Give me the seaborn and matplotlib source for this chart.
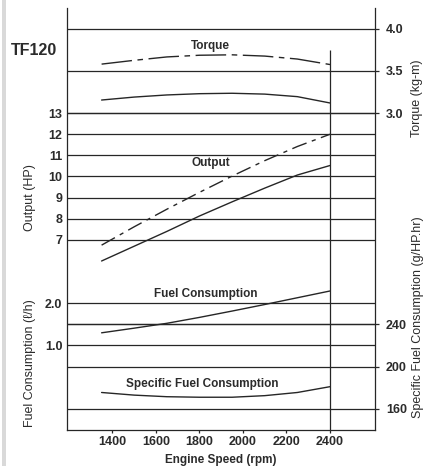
import numpy as np
import pandas as pd
import seaborn as sns
import matplotlib.pyplot as plt

## DATA ##
rpm = [1350, 1500, 1650, 1800, 1950, 2100, 2250, 2400]
torque_max = [3.58, 3.625, 3.665, 3.685, 3.69, 3.675, 3.64, 3.575]      # dash-dot
torque_cont = [3.155, 3.19, 3.215, 3.23, 3.235, 3.225, 3.195, 3.12]     # solid
output_max = [6.75, 7.62, 8.45, 9.25, 10.02, 10.75, 11.42, 12.0]        # dash-dot
output_cont = [6.0, 6.7, 7.4, 8.13, 8.8, 9.45, 10.07, 10.52]            # solid
fuel = [1.30, 1.41, 1.525, 1.665, 1.815, 1.97, 2.13, 2.29]
sfc = [175.5, 173, 171.5, 171, 171, 172.5, 175.5, 181]

x_ticks = [1400, 1600, 1800, 2000, 2200, 2400]
output_ticks = [7, 8, 9, 10, 11, 12, 13]
fuel_ticks = [1.0, 1.5, 2.0]
fuel_labels = ['1.0', '', '2.0']
torque_ticks = [3.0, 3.5, 4.0]
sfc_ticks = [160, 200, 240]

df = pd.DataFrame({'rpm': rpm, 'tq_max': torque_max, 'tq_cont': torque_cont,
                   'hp_max': output_max, 'hp_cont': output_cont,
                   'fuel': fuel, 'sfc': sfc})

## STYLE ##
sns.set_theme(style='white')
plt.rcParams['font.family'] = ['Liberation Sans', 'DejaVu Sans']
ink = '#262626'
txt = '#2b2b2b'
lw = 0.9
dashdot_long = (0, (22, 4, 4, 4))
dashdot_short = (0, (11, 4, 3, 4))

fig = plt.figure(figsize=(4.24, 4.66), dpi=100)
ax = fig.add_axes([0.157, 0.0773, 0.727, 0.9066])
ax.set_ylim(0, 20)
ax.set_yticks([])
ax.spines['top'].set_visible(False)
for s in ['left', 'bottom', 'right']:
    ax.spines[s].set_color(ink)
    ax.spines[s].set_linewidth(lw)


def make_twin(lims, side):
    t = ax.twinx()
    t.set_ylim(lims)
    for s in t.spines.values():
        s.set_visible(False)
    if side == 'left':
        t.yaxis.tick_left()
        t.tick_params(axis='y', length=0, pad=3)
    else:
        t.yaxis.tick_right()
        t.tick_params(axis='y', length=3, width=lw, color=ink, pad=5, direction='out')
    return t


# each scale lines up on the same ruled grid
ax_hp = make_twin((-2, 18), 'left')
ax_fc = make_twin((-1.0, 9.0), 'left')
ax_tq = make_twin((-0.75, 4.25), 'right')
ax_sf = make_twin((140, 540), 'right')

for t, ticks in [(ax_hp, output_ticks), (ax_fc, fuel_ticks),
                 (ax_tq, torque_ticks), (ax_sf, sfc_ticks)]:
    t.set_yticks(ticks)
    for v in ticks:
        t.axhline(v, color=ink, lw=lw, zorder=1)
    for lab in t.get_yticklabels():
        lab.set_fontweight('bold')
        lab.set_fontsize(9)
        lab.set_color(txt)
    t.set_ylabel('')
ax_fc.set_yticklabels(fuel_labels, fontweight='bold', fontsize=9, color=txt)

# curves
sns.lineplot(data=df, x='rpm', y='tq_max', ax=ax_tq, color=ink, lw=1.0, linestyle=dashdot_long)
sns.lineplot(data=df, x='rpm', y='tq_cont', ax=ax_tq, color=ink, lw=1.0)
sns.lineplot(data=df, x='rpm', y='hp_max', ax=ax_hp, color=ink, lw=1.0, linestyle=dashdot_short)
sns.lineplot(data=df, x='rpm', y='hp_cont', ax=ax_hp, color=ink, lw=1.0)
sns.lineplot(data=df, x='rpm', y='fuel', ax=ax_fc, color=ink, lw=1.0)
sns.lineplot(data=df, x='rpm', y='sfc', ax=ax_sf, color=ink, lw=1.0)
for t in [ax_hp, ax_fc, ax_tq, ax_sf]:
    t.set_ylabel('')
    t.set_xlabel('')

# rated speed line
ax.vlines(rpm[-1], 0, 18, color=ink, lw=lw)

# curve names
ax_tq.text(1852, 3.79, 'Torque', ha='center', va='center', fontweight='bold', fontsize=8.5, color=txt)
ax_hp.text(1850, 10.63, 'Output', ha='center', va='center', fontweight='bold', fontsize=8.5, color=txt)
ax_fc.text(1829, 2.215, 'Fuel Consumption', ha='center', va='center', fontweight='bold', fontsize=8.5, color=txt)
ax_sf.text(1813, 183.2, 'Specific Fuel Consumption', ha='center', va='center', fontweight='bold', fontsize=8.5, color=txt)

# axis titles
ax.text(-0.118, 0.551, 'Output (HP)', transform=ax.transAxes, rotation=90,
        ha='center', va='center', fontsize=9, color=txt)
ax.text(-0.12, 0.158, 'Fuel Consumption (\u2113/h)', transform=ax.transAxes, rotation=90,
        ha='center', va='center', fontsize=9, color=txt)
ax.text(1.136, 0.785, 'Torque (kg-m)', transform=ax.transAxes, rotation=90,
        ha='center', va='center', fontsize=9, color=txt)
ax.text(1.14, 0.267, 'Specific Fuel Consumption (g/HP.hr)', transform=ax.transAxes, rotation=90,
        ha='center', va='center', fontsize=9, color=txt)
ax.text(-0.105, 0.898, 'TF120', transform=ax.transAxes, ha='center', va='center',
        fontsize=11.5, fontweight='bold', color=txt)

# x axis
ax.set_xticks(x_ticks)
ax.set_xticklabels([str(v) for v in x_ticks], fontweight='bold', fontsize=9, color=txt)
ax.tick_params(axis='x', length=2.5, width=lw, color=ink, pad=2, direction='out', bottom=True)
ax.set_xlabel('Engine Speed (rpm)', fontweight='bold', fontsize=8.5, color=txt, labelpad=4)
ax.set_xlim(1189, 2606)

# scan edge
fig.add_artist(plt.Rectangle((2 / 424, 0), 4 / 424, 1, transform=fig.transFigure,
                             color='#d9d9d9', lw=0))

fig.savefig('out.png', dpi=100)
